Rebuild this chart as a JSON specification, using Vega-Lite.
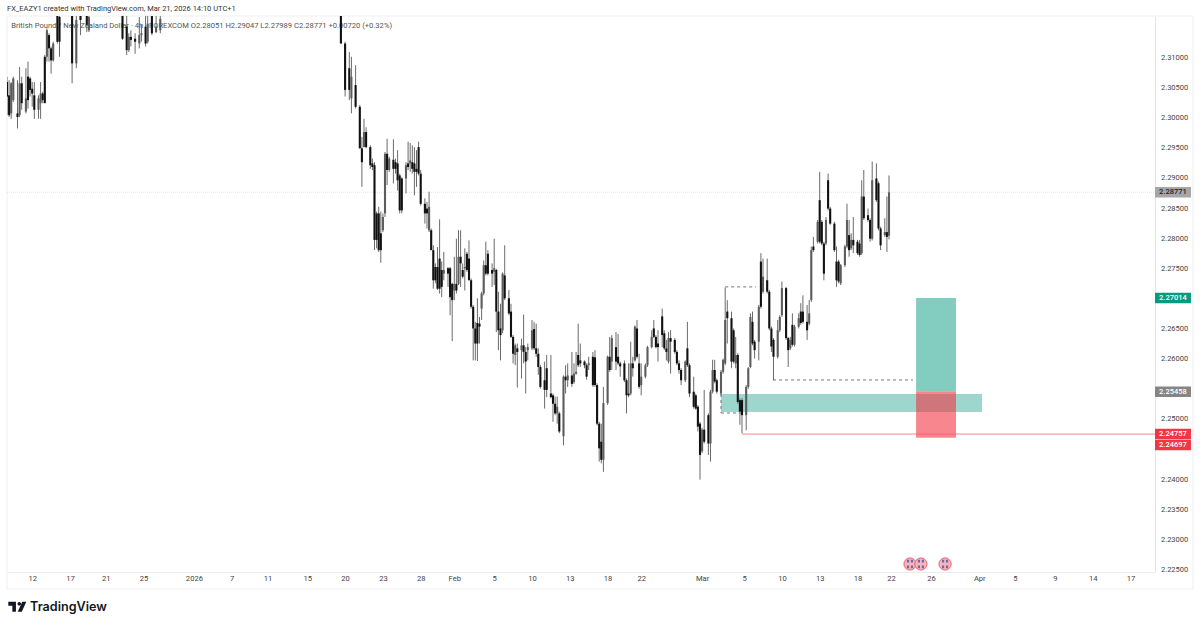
{
  "$schema": "https://vega.github.io/schema/vega-lite/v6.json",
  "width": 1148,
  "height": 556,
  "autosize": {"type": "none"},
  "padding": {"left": 7, "top": 16, "right": 45, "bottom": 55},
  "background": "#ffffff",
  "title": {
    "text": "FX_EAZY1 created with TradingView.com, Mar 21, 2026 14:10 UTC+1",
    "anchor": "start",
    "frame": "group",
    "offset": 3,
    "font": "Roboto",
    "fontSize": 7.5,
    "fontWeight": "normal",
    "color": "#333333"
  },
  "datasets": {
    "candles": [
      {"bar":0,"o":2.3060,"h":2.3069,"l":2.3005,"c":2.3036},
      {"bar":1,"o":2.3038,"h":2.3063,"l":2.3002,"c":2.3005},
      {"bar":2,"o":2.3008,"h":2.3060,"l":2.2999,"c":2.3058},
      {"bar":3,"o":2.3030,"h":2.3069,"l":2.3027,"c":2.3066},
      {"bar":5,"o":2.3008,"h":2.3063,"l":2.2983,"c":2.3002},
      {"bar":6,"o":2.3005,"h":2.3085,"l":2.3002,"c":2.3058},
      {"bar":7,"o":2.3058,"h":2.3069,"l":2.3014,"c":2.3025},
      {"bar":9,"o":2.3011,"h":2.3083,"l":2.3008,"c":2.3033},
      {"bar":10,"o":2.3069,"h":2.3094,"l":2.3016,"c":2.3030},
      {"bar":11,"o":2.3066,"h":2.3069,"l":2.3036,"c":2.3047},
      {"bar":12,"o":2.3049,"h":2.3060,"l":2.3019,"c":2.3041},
      {"bar":13,"o":2.3038,"h":2.3060,"l":2.2999,"c":2.3014},
      {"bar":15,"o":2.3014,"h":2.3038,"l":2.2999,"c":2.3033},
      {"bar":16,"o":2.3025,"h":2.3060,"l":2.2999,"c":2.3041},
      {"bar":17,"o":2.3041,"h":2.3044,"l":2.3025,"c":2.3030},
      {"bar":18,"o":2.3102,"h":2.3105,"l":2.3025,"c":2.3025},
      {"bar":19,"o":2.3102,"h":2.3149,"l":2.3094,"c":2.3146},
      {"bar":20,"o":2.3138,"h":2.3141,"l":2.3094,"c":2.3116},
      {"bar":21,"o":2.3116,"h":2.3119,"l":2.3074,"c":2.3096},
      {"bar":22,"o":2.3096,"h":2.3127,"l":2.3094,"c":2.3124},
      {"bar":24,"o":2.3174,"h":2.3185,"l":2.3124,"c":2.3127},
      {"bar":25,"o":2.3168,"h":2.3185,"l":2.3102,"c":2.3127},
      {"bar":31,"o":2.3174,"h":2.3185,"l":2.3058,"c":2.3091},
      {"bar":33,"o":2.3091,"h":2.3185,"l":2.3083,"c":2.3163},
      {"bar":35,"o":2.3175,"h":2.3185,"l":2.3138,"c":2.3163},
      {"bar":38,"o":2.3175,"h":2.3185,"l":2.3143,"c":2.3155},
      {"bar":39,"o":2.3146,"h":2.3185,"l":2.3143,"c":2.3168},
      {"bar":55,"o":2.3180,"h":2.3185,"l":2.3130,"c":2.3132},
      {"bar":57,"o":2.3152,"h":2.3175,"l":2.3105,"c":2.3113},
      {"bar":58,"o":2.3113,"h":2.3141,"l":2.3110,"c":2.3135},
      {"bar":59,"o":2.3135,"h":2.3146,"l":2.3119,"c":2.3130},
      {"bar":61,"o":2.3132,"h":2.3141,"l":2.3107,"c":2.3127},
      {"bar":63,"o":2.3124,"h":2.3168,"l":2.3116,"c":2.3138},
      {"bar":64,"o":2.3138,"h":2.3155,"l":2.3127,"c":2.3141},
      {"bar":66,"o":2.3152,"h":2.3175,"l":2.3119,"c":2.3124},
      {"bar":67,"o":2.3127,"h":2.3175,"l":2.3124,"c":2.3157},
      {"bar":69,"o":2.3180,"h":2.3185,"l":2.3138,"c":2.3141},
      {"bar":71,"o":2.3143,"h":2.3175,"l":2.3141,"c":2.3152},
      {"bar":73,"o":2.3146,"h":2.3185,"l":2.3141,"c":2.3165},
      {"bar":159,"o":2.3175,"h":2.3185,"l":2.3124,"c":2.3124},
      {"bar":161,"o":2.3124,"h":2.3127,"l":2.3036,"c":2.3047},
      {"bar":163,"o":2.3083,"h":2.3110,"l":2.3030,"c":2.3047},
      {"bar":164,"o":2.3033,"h":2.3102,"l":2.3008,"c":2.3069},
      {"bar":166,"o":2.3055,"h":2.3088,"l":2.3016,"c":2.3019},
      {"bar":168,"o":2.3019,"h":2.3022,"l":2.2950,"c":2.2950},
      {"bar":169,"o":2.2950,"h":2.2969,"l":2.2886,"c":2.2927},
      {"bar":170,"o":2.2952,"h":2.2999,"l":2.2952,"c":2.2977},
      {"bar":171,"o":2.2977,"h":2.2985,"l":2.2950,"c":2.2952},
      {"bar":173,"o":2.2952,"h":2.2955,"l":2.2916,"c":2.2922},
      {"bar":174,"o":2.2925,"h":2.2933,"l":2.2914,"c":2.2919},
      {"bar":175,"o":2.2922,"h":2.2927,"l":2.2781,"c":2.2798},
      {"bar":176,"o":2.2842,"h":2.2845,"l":2.2784,"c":2.2798},
      {"bar":177,"o":2.2842,"h":2.2853,"l":2.2778,"c":2.2781},
      {"bar":178,"o":2.2809,"h":2.2845,"l":2.2760,"c":2.2781},
      {"bar":179,"o":2.2814,"h":2.2842,"l":2.2811,"c":2.2836},
      {"bar":180,"o":2.2842,"h":2.2944,"l":2.2836,"c":2.2941},
      {"bar":181,"o":2.2941,"h":2.2966,"l":2.2889,"c":2.2914},
      {"bar":182,"o":2.2914,"h":2.2936,"l":2.2911,"c":2.2933},
      {"bar":184,"o":2.2931,"h":2.2965,"l":2.2892,"c":2.2916},
      {"bar":185,"o":2.2927,"h":2.2933,"l":2.2908,"c":2.2916},
      {"bar":186,"o":2.2925,"h":2.2947,"l":2.2880,"c":2.2897},
      {"bar":187,"o":2.2905,"h":2.2908,"l":2.2842,"c":2.2847},
      {"bar":188,"o":2.2900,"h":2.2902,"l":2.2842,"c":2.2847},
      {"bar":190,"o":2.2900,"h":2.2927,"l":2.2875,"c":2.2922},
      {"bar":191,"o":2.2925,"h":2.2961,"l":2.2914,"c":2.2919},
      {"bar":192,"o":2.2925,"h":2.2959,"l":2.2911,"c":2.2930},
      {"bar":193,"o":2.2927,"h":2.2955,"l":2.2908,"c":2.2916},
      {"bar":194,"o":2.2925,"h":2.2952,"l":2.2872,"c":2.2911},
      {"bar":195,"o":2.2916,"h":2.2947,"l":2.2886,"c":2.2911},
      {"bar":196,"o":2.2952,"h":2.2961,"l":2.2905,"c":2.2908},
      {"bar":197,"o":2.2908,"h":2.2914,"l":2.2855,"c":2.2858},
      {"bar":199,"o":2.2858,"h":2.2867,"l":2.2825,"c":2.2842},
      {"bar":200,"o":2.2850,"h":2.2861,"l":2.2817,"c":2.2842},
      {"bar":201,"o":2.2814,"h":2.2878,"l":2.2811,"c":2.2853},
      {"bar":202,"o":2.2814,"h":2.2817,"l":2.2781,"c":2.2781},
      {"bar":203,"o":2.2781,"h":2.2789,"l":2.2717,"c":2.2731},
      {"bar":204,"o":2.2753,"h":2.2759,"l":2.2726,"c":2.2731},
      {"bar":205,"o":2.2753,"h":2.2786,"l":2.2715,"c":2.2717},
      {"bar":206,"o":2.2767,"h":2.2832,"l":2.2709,"c":2.2717},
      {"bar":207,"o":2.2748,"h":2.2762,"l":2.2703,"c":2.2720},
      {"bar":208,"o":2.2742,"h":2.2778,"l":2.2731,"c":2.2748},
      {"bar":210,"o":2.2751,"h":2.2753,"l":2.2720,"c":2.2742},
      {"bar":211,"o":2.2751,"h":2.2753,"l":2.2673,"c":2.2703},
      {"bar":212,"o":2.2725,"h":2.2727,"l":2.2630,"c":2.2698},
      {"bar":213,"o":2.2714,"h":2.2770,"l":2.2698,"c":2.2725},
      {"bar":214,"o":2.2725,"h":2.2800,"l":2.2709,"c":2.2714},
      {"bar":215,"o":2.2725,"h":2.2814,"l":2.2723,"c":2.2770},
      {"bar":216,"o":2.2770,"h":2.2814,"l":2.2720,"c":2.2759},
      {"bar":217,"o":2.2748,"h":2.2759,"l":2.2734,"c":2.2737},
      {"bar":218,"o":2.2751,"h":2.2784,"l":2.2714,"c":2.2753},
      {"bar":219,"o":2.2775,"h":2.2778,"l":2.2745,"c":2.2748},
      {"bar":220,"o":2.2767,"h":2.2797,"l":2.2731,"c":2.2731},
      {"bar":221,"o":2.2731,"h":2.2734,"l":2.2684,"c":2.2687},
      {"bar":222,"o":2.2687,"h":2.2690,"l":2.2598,"c":2.2651},
      {"bar":223,"o":2.2651,"h":2.2662,"l":2.2598,"c":2.2626},
      {"bar":224,"o":2.2660,"h":2.2701,"l":2.2597,"c":2.2626},
      {"bar":225,"o":2.2659,"h":2.2670,"l":2.2626,"c":2.2654},
      {"bar":226,"o":2.2684,"h":2.2712,"l":2.2665,"c":2.2709},
      {"bar":227,"o":2.2709,"h":2.2764,"l":2.2706,"c":2.2756},
      {"bar":228,"o":2.2756,"h":2.2795,"l":2.2739,"c":2.2742},
      {"bar":229,"o":2.2775,"h":2.2781,"l":2.2739,"c":2.2742},
      {"bar":231,"o":2.2748,"h":2.2759,"l":2.2720,"c":2.2742},
      {"bar":232,"o":2.2745,"h":2.2800,"l":2.2723,"c":2.2751},
      {"bar":233,"o":2.2748,"h":2.2750,"l":2.2645,"c":2.2679},
      {"bar":234,"o":2.2679,"h":2.2712,"l":2.2615,"c":2.2648},
      {"bar":235,"o":2.2651,"h":2.2692,"l":2.2598,"c":2.2640},
      {"bar":236,"o":2.2648,"h":2.2744,"l":2.2643,"c":2.2742},
      {"bar":237,"o":2.2739,"h":2.2789,"l":2.2698,"c":2.2701},
      {"bar":239,"o":2.2701,"h":2.2715,"l":2.2673,"c":2.2676},
      {"bar":240,"o":2.2679,"h":2.2692,"l":2.2635,"c":2.2637},
      {"bar":241,"o":2.2637,"h":2.2640,"l":2.2593,"c":2.2609},
      {"bar":242,"o":2.2607,"h":2.2626,"l":2.2590,"c":2.2623},
      {"bar":243,"o":2.2618,"h":2.2626,"l":2.2553,"c":2.2612},
      {"bar":245,"o":2.2615,"h":2.2634,"l":2.2568,"c":2.2623},
      {"bar":246,"o":2.2623,"h":2.2674,"l":2.2593,"c":2.2612},
      {"bar":247,"o":2.2612,"h":2.2620,"l":2.2543,"c":2.2596},
      {"bar":248,"o":2.2615,"h":2.2626,"l":2.2598,"c":2.2620},
      {"bar":250,"o":2.2618,"h":2.2665,"l":2.2615,"c":2.2648},
      {"bar":251,"o":2.2650,"h":2.2662,"l":2.2615,"c":2.2618},
      {"bar":252,"o":2.2618,"h":2.2659,"l":2.2604,"c":2.2609},
      {"bar":253,"o":2.2609,"h":2.2618,"l":2.2574,"c":2.2587},
      {"bar":254,"o":2.2587,"h":2.2590,"l":2.2551,"c":2.2554},
      {"bar":256,"o":2.2565,"h":2.2596,"l":2.2518,"c":2.2549},
      {"bar":257,"o":2.2585,"h":2.2607,"l":2.2537,"c":2.2549},
      {"bar":259,"o":2.2543,"h":2.2607,"l":2.2535,"c":2.2537},
      {"bar":260,"o":2.2540,"h":2.2543,"l":2.2496,"c":2.2526},
      {"bar":261,"o":2.2526,"h":2.2538,"l":2.2507,"c":2.2510},
      {"bar":262,"o":2.2510,"h":2.2538,"l":2.2493,"c":2.2521},
      {"bar":263,"o":2.2510,"h":2.2513,"l":2.2477,"c":2.2480},
      {"bar":265,"o":2.2472,"h":2.2573,"l":2.2457,"c":2.2571},
      {"bar":266,"o":2.2571,"h":2.2590,"l":2.2543,"c":2.2565},
      {"bar":267,"o":2.2565,"h":2.2593,"l":2.2554,"c":2.2573},
      {"bar":269,"o":2.2573,"h":2.2612,"l":2.2554,"c":2.2559},
      {"bar":270,"o":2.2562,"h":2.2593,"l":2.2559,"c":2.2576},
      {"bar":271,"o":2.2576,"h":2.2612,"l":2.2574,"c":2.2579},
      {"bar":272,"o":2.2607,"h":2.2659,"l":2.2587,"c":2.2590},
      {"bar":273,"o":2.2598,"h":2.2626,"l":2.2587,"c":2.2593},
      {"bar":275,"o":2.2596,"h":2.2598,"l":2.2585,"c":2.2590},
      {"bar":276,"o":2.2590,"h":2.2593,"l":2.2566,"c":2.2571},
      {"bar":277,"o":2.2590,"h":2.2604,"l":2.2582,"c":2.2593},
      {"bar":279,"o":2.2604,"h":2.2612,"l":2.2554,"c":2.2557},
      {"bar":280,"o":2.2603,"h":2.2615,"l":2.2554,"c":2.2557},
      {"bar":281,"o":2.2557,"h":2.2560,"l":2.2490,"c":2.2493},
      {"bar":282,"o":2.2493,"h":2.2496,"l":2.2430,"c":2.2452},
      {"bar":283,"o":2.2463,"h":2.2493,"l":2.2427,"c":2.2433},
      {"bar":284,"o":2.2433,"h":2.2554,"l":2.2413,"c":2.2527},
      {"bar":286,"o":2.2527,"h":2.2606,"l":2.2524,"c":2.2604},
      {"bar":287,"o":2.2604,"h":2.2637,"l":2.2579,"c":2.2582},
      {"bar":288,"o":2.2596,"h":2.2640,"l":2.2582,"c":2.2635},
      {"bar":290,"o":2.2620,"h":2.2645,"l":2.2582,"c":2.2596},
      {"bar":291,"o":2.2604,"h":2.2642,"l":2.2590,"c":2.2593},
      {"bar":292,"o":2.2593,"h":2.2596,"l":2.2571,"c":2.2588},
      {"bar":294,"o":2.2593,"h":2.2598,"l":2.2562,"c":2.2565},
      {"bar":295,"o":2.2565,"h":2.2568,"l":2.2510,"c":2.2540},
      {"bar":296,"o":2.2543,"h":2.2593,"l":2.2537,"c":2.2540},
      {"bar":297,"o":2.2543,"h":2.2629,"l":2.2540,"c":2.2593},
      {"bar":298,"o":2.2593,"h":2.2604,"l":2.2571,"c":2.2585},
      {"bar":299,"o":2.2598,"h":2.2656,"l":2.2596,"c":2.2654},
      {"bar":300,"o":2.2651,"h":2.2665,"l":2.2601,"c":2.2604},
      {"bar":301,"o":2.2593,"h":2.2609,"l":2.2551,"c":2.2554},
      {"bar":302,"o":2.2557,"h":2.2593,"l":2.2540,"c":2.2571},
      {"bar":304,"o":2.2571,"h":2.2593,"l":2.2568,"c":2.2590},
      {"bar":305,"o":2.2590,"h":2.2622,"l":2.2587,"c":2.2620},
      {"bar":307,"o":2.2620,"h":2.2648,"l":2.2618,"c":2.2637},
      {"bar":308,"o":2.2651,"h":2.2665,"l":2.2635,"c":2.2637},
      {"bar":309,"o":2.2637,"h":2.2640,"l":2.2618,"c":2.2620},
      {"bar":310,"o":2.2626,"h":2.2648,"l":2.2596,"c":2.2620},
      {"bar":312,"o":2.2671,"h":2.2684,"l":2.2620,"c":2.2640},
      {"bar":313,"o":2.2643,"h":2.2648,"l":2.2615,"c":2.2618},
      {"bar":314,"o":2.2618,"h":2.2632,"l":2.2598,"c":2.2612},
      {"bar":315,"o":2.2596,"h":2.2645,"l":2.2593,"c":2.2635},
      {"bar":316,"o":2.2635,"h":2.2648,"l":2.2576,"c":2.2629},
      {"bar":318,"o":2.2632,"h":2.2635,"l":2.2609,"c":2.2612},
      {"bar":319,"o":2.2612,"h":2.2615,"l":2.2590,"c":2.2593},
      {"bar":320,"o":2.2593,"h":2.2598,"l":2.2576,"c":2.2582},
      {"bar":321,"o":2.2582,"h":2.2585,"l":2.2557,"c":2.2565},
      {"bar":323,"o":2.2565,"h":2.2598,"l":2.2562,"c":2.2596},
      {"bar":324,"o":2.2618,"h":2.2662,"l":2.2587,"c":2.2590},
      {"bar":325,"o":2.2590,"h":2.2593,"l":2.2537,"c":2.2543},
      {"bar":327,"o":2.2546,"h":2.2571,"l":2.2518,"c":2.2521},
      {"bar":328,"o":2.2540,"h":2.2543,"l":2.2516,"c":2.2518},
      {"bar":329,"o":2.2521,"h":2.2524,"l":2.2480,"c":2.2488},
      {"bar":330,"o":2.2493,"h":2.2496,"l":2.2400,"c":2.2441},
      {"bar":331,"o":2.2447,"h":2.2486,"l":2.2444,"c":2.2483},
      {"bar":332,"o":2.2483,"h":2.2549,"l":2.2460,"c":2.2463},
      {"bar":334,"o":2.2507,"h":2.2510,"l":2.2441,"c":2.2460},
      {"bar":335,"o":2.2460,"h":2.2549,"l":2.2430,"c":2.2546},
      {"bar":336,"o":2.2546,"h":2.2599,"l":2.2543,"c":2.2582},
      {"bar":337,"o":2.2582,"h":2.2599,"l":2.2560,"c":2.2563},
      {"bar":338,"o":2.2565,"h":2.2568,"l":2.2543,"c":2.2546},
      {"bar":340,"o":2.2543,"h":2.2582,"l":2.2540,"c":2.2579},
      {"bar":341,"o":2.2579,"h":2.2601,"l":2.2576,"c":2.2599},
      {"bar":342,"o":2.2593,"h":2.2719,"l":2.2590,"c":2.2665},
      {"bar":343,"o":2.2679,"h":2.2698,"l":2.2626,"c":2.2668},
      {"bar":345,"o":2.2668,"h":2.2679,"l":2.2585,"c":2.2596},
      {"bar":346,"o":2.2648,"h":2.2651,"l":2.2593,"c":2.2596},
      {"bar":347,"o":2.2593,"h":2.2637,"l":2.2585,"c":2.2607},
      {"bar":348,"o":2.2607,"h":2.2610,"l":2.2526,"c":2.2529},
      {"bar":349,"o":2.2532,"h":2.2535,"l":2.2491,"c":2.2513},
      {"bar":350,"o":2.2532,"h":2.2535,"l":2.2477,"c":2.2507},
      {"bar":352,"o":2.2507,"h":2.2557,"l":2.2482,"c":2.2554},
      {"bar":353,"o":2.2554,"h":2.2587,"l":2.2551,"c":2.2585},
      {"bar":354,"o":2.2587,"h":2.2676,"l":2.2585,"c":2.2670},
      {"bar":355,"o":2.2662,"h":2.2679,"l":2.2623,"c":2.2626},
      {"bar":356,"o":2.2629,"h":2.2632,"l":2.2601,"c":2.2615},
      {"bar":358,"o":2.2629,"h":2.2690,"l":2.2598,"c":2.2687},
      {"bar":359,"o":2.2762,"h":2.2776,"l":2.2684,"c":2.2687},
      {"bar":360,"o":2.2712,"h":2.2767,"l":2.2709,"c":2.2737},
      {"bar":362,"o":2.2731,"h":2.2767,"l":2.2709,"c":2.2712},
      {"bar":363,"o":2.2712,"h":2.2715,"l":2.2648,"c":2.2651},
      {"bar":364,"o":2.2651,"h":2.2654,"l":2.2612,"c":2.2621},
      {"bar":365,"o":2.2632,"h":2.2635,"l":2.2565,"c":2.2604},
      {"bar":367,"o":2.2604,"h":2.2665,"l":2.2601,"c":2.2648},
      {"bar":368,"o":2.2648,"h":2.2673,"l":2.2645,"c":2.2670},
      {"bar":369,"o":2.2673,"h":2.2729,"l":2.2670,"c":2.2718},
      {"bar":371,"o":2.2718,"h":2.2720,"l":2.2632,"c":2.2635},
      {"bar":372,"o":2.2635,"h":2.2637,"l":2.2587,"c":2.2615},
      {"bar":373,"o":2.2618,"h":2.2637,"l":2.2615,"c":2.2632},
      {"bar":374,"o":2.2657,"h":2.2676,"l":2.2621,"c":2.2624},
      {"bar":375,"o":2.2624,"h":2.2657,"l":2.2621,"c":2.2654},
      {"bar":377,"o":2.2654,"h":2.2676,"l":2.2651,"c":2.2668},
      {"bar":378,"o":2.2679,"h":2.2693,"l":2.2657,"c":2.2660},
      {"bar":379,"o":2.2679,"h":2.2706,"l":2.2659,"c":2.2662},
      {"bar":381,"o":2.2662,"h":2.2690,"l":2.2632,"c":2.2648},
      {"bar":382,"o":2.2659,"h":2.2698,"l":2.2656,"c":2.2676},
      {"bar":383,"o":2.2698,"h":2.2787,"l":2.2695,"c":2.2781},
      {"bar":384,"o":2.2787,"h":2.2803,"l":2.2778,"c":2.2781},
      {"bar":386,"o":2.2795,"h":2.2831,"l":2.2792,"c":2.2828},
      {"bar":387,"o":2.2864,"h":2.2911,"l":2.2792,"c":2.2795},
      {"bar":388,"o":2.2828,"h":2.2831,"l":2.2789,"c":2.2792},
      {"bar":389,"o":2.2792,"h":2.2795,"l":2.2731,"c":2.2742},
      {"bar":390,"o":2.2792,"h":2.2836,"l":2.2789,"c":2.2831},
      {"bar":391,"o":2.2897,"h":2.2908,"l":2.2847,"c":2.2850},
      {"bar":392,"o":2.2850,"h":2.2853,"l":2.2823,"c":2.2825},
      {"bar":394,"o":2.2825,"h":2.2828,"l":2.2778,"c":2.2781},
      {"bar":395,"o":2.2762,"h":2.2787,"l":2.2720,"c":2.2731},
      {"bar":396,"o":2.2762,"h":2.2765,"l":2.2726,"c":2.2729},
      {"bar":397,"o":2.2726,"h":2.2758,"l":2.2723,"c":2.2756},
      {"bar":399,"o":2.2756,"h":2.2790,"l":2.2753,"c":2.2787},
      {"bar":400,"o":2.2787,"h":2.2858,"l":2.2784,"c":2.2831},
      {"bar":401,"o":2.2806,"h":2.2831,"l":2.2770,"c":2.2781},
      {"bar":402,"o":2.2784,"h":2.2809,"l":2.2781,"c":2.2798},
      {"bar":403,"o":2.2798,"h":2.2836,"l":2.2776,"c":2.2789},
      {"bar":405,"o":2.2795,"h":2.2798,"l":2.2773,"c":2.2776},
      {"bar":406,"o":2.2792,"h":2.2798,"l":2.2770,"c":2.2773},
      {"bar":407,"o":2.2776,"h":2.2897,"l":2.2773,"c":2.2870},
      {"bar":408,"o":2.2870,"h":2.2914,"l":2.2831,"c":2.2834},
      {"bar":410,"o":2.2839,"h":2.2850,"l":2.2828,"c":2.2831},
      {"bar":411,"o":2.2831,"h":2.2834,"l":2.2795,"c":2.2800},
      {"bar":412,"o":2.2800,"h":2.2928,"l":2.2797,"c":2.2897},
      {"bar":414,"o":2.2900,"h":2.2925,"l":2.2861,"c":2.2864},
      {"bar":415,"o":2.2892,"h":2.2895,"l":2.2814,"c":2.2817},
      {"bar":416,"o":2.2817,"h":2.2820,"l":2.2781,"c":2.2789},
      {"bar":418,"o":2.2806,"h":2.2834,"l":2.2803,"c":2.2811},
      {"bar":419,"o":2.2811,"h":2.2870,"l":2.2778,"c":2.2803},
      {"bar":420,"o":2.2805,"h":2.2905,"l":2.2799,"c":2.2877}
    ],
    "boxes": [
      {"name":"band","x0":340,"x1":464.3,"top":2.25422,"bottom":2.25123},
      {"name":"target","x0":432.9,"x1":451.9,"top":2.27014,"bottom":2.25458},
      {"name":"stop","x0":432.9,"x1":451.9,"top":2.25458,"bottom":2.24697}
    ],
    "dashes": [
      {"x0":342,"x1":356.7,"y0":2.2720,"y1":2.2720},
      {"x0":364.8,"x1":431.4,"y0":2.25655,"y1":2.25655},
      {"x0":340,"x1":350,"y0":2.25107,"y1":2.25107},
      {"x0":340,"x1":340,"y0":2.25422,"y1":2.25107}
    ],
    "tags": [
      {"label":"2.28771","at":2.28771,"kind":"last"},
      {"label":"2.27014","at":2.27014,"kind":"target"},
      {"label":"2.25458","at":2.25458,"kind":"entry"},
      {"label":"2.24757","at":2.24757,"kind":"stop"},
      {"label":"2.24697","at":2.24576,"kind":"stop"}
    ],
    "priceLabels": [
      {"price":2.31,"label":"2.31000"},
      {"price":2.305,"label":"2.30500"},
      {"price":2.30,"label":"2.30000"},
      {"price":2.295,"label":"2.29500"},
      {"price":2.29,"label":"2.29000"},
      {"price":2.285,"label":"2.28500"},
      {"price":2.28,"label":"2.28000"},
      {"price":2.275,"label":"2.27500"},
      {"price":2.265,"label":"2.26500"},
      {"price":2.26,"label":"2.26000"},
      {"price":2.25,"label":"2.25000"},
      {"price":2.24,"label":"2.24000"},
      {"price":2.235,"label":"2.23500"},
      {"price":2.23,"label":"2.23000"},
      {"price":2.225,"label":"2.22500"}
    ],
    "flags": [
      {"bar":430},
      {"bar":435.2},
      {"bar":446.7}
    ]
  },
  "data": {"name": "candles"},
  "layer": [
    {
      "data": {"values": [{"x0":0,"x1":564.8,"top":2.31697,"bottom":2.22185}]},
      "mark": {"type": "rect", "fill": null, "stroke": "#efefef", "strokeWidth": 1},
      "encoding": {
        "x": {
          "field": "x0",
          "type": "quantitative",
          "title": null,
          "scale": {"domain": [0, 546.67], "nice": false, "zero": false},
          "axis": {
            "orient": "bottom",
            "domain": true,
            "domainColor": "#ececec",
            "ticks": false,
            "grid": false,
            "labelPadding": 2,
            "labelFont": "Roboto",
            "labelFontSize": 7.6,
            "labelColor": "#444444",
            "labelOverlap": false,
            "labelFlush": false,
            "values": [12,30,47,65,89,107,124,143,161,179,197,213,232,250,268,286,302,331,351,369,387,405,421,440,463,480,499,517,535],
            "labelExpr": "{'12':'12','30':'17','47':'21','65':'25','89':'2026','107':'7','124':'11','143':'15','161':'20','179':'23','197':'28','213':'Feb','232':'5','250':'10','268':'13','286':'18','302':'22','331':'Mar','351':'5','369':'10','387':'13','405':'18','421':'22','440':'26','463':'Apr','480':'5','499':'9','517':'14','535':'17'}[datum.value]"
          }
        },
        "x2": {"field": "x1"},
        "y": {
          "field": "top",
          "type": "quantitative",
          "title": null,
          "scale": {"domain": [2.22467, 2.31697], "nice": false, "zero": false},
          "axis": {
            "orient": "right",
            "domain": true,
            "domainColor": "#e4e4e4",
            "ticks": false,
            "grid": false,
            "labels": false
          }
        },
        "y2": {"field": "bottom"}
      }
    },
    {
      "data": {"name": "priceLabels"},
      "mark": {"type": "text", "align": "left", "font": "Roboto", "fontSize": 7.5, "color": "#444444"},
      "encoding": {
        "x": {"datum": 549.5, "type": "quantitative", "title": null},
        "y": {"field": "price", "type": "quantitative", "title": null},
        "text": {"field": "label"}
      }
    },
    {
      "data": {"name": "boxes"},
      "mark": {"type": "rect"},
      "encoding": {
        "x": {"field": "x0", "type": "quantitative", "title": null},
        "x2": {"field": "x1"},
        "y": {"field": "top", "type": "quantitative", "title": null},
        "y2": {"field": "bottom"},
        "color": {
          "field": "name",
          "type": "nominal",
          "legend": null,
          "scale": {"domain": ["band", "target", "stop", "last", "entry"], "range": ["#089981", "#089981", "#f23645", "#a6a6a6", "#858585"]}
        },
        "opacity": {
          "field": "name",
          "type": "nominal",
          "legend": null,
          "scale": {"domain": ["band", "target", "stop"], "range": [0.4, 0.6, 0.55]}
        }
      }
    },
    {
      "data": {"values": [{"price":2.28771,"x0":0,"x1":546.67}]},
      "mark": {"type": "rule", "color": "#dddddd", "strokeWidth": 0.8, "strokeDash": [1, 1]},
      "encoding": {
        "x": {"field": "x0", "type": "quantitative", "title": null},
        "x2": {"field": "x1"},
        "y": {"field": "price", "type": "quantitative", "title": null}
      }
    },
    {
      "data": {"values": [{"price":2.24757,"x0":350,"x1":546.67}]},
      "mark": {"type": "rule", "color": "#f0626e", "strokeWidth": 0.8},
      "encoding": {
        "x": {"field": "x0", "type": "quantitative", "title": null},
        "x2": {"field": "x1"},
        "y": {"field": "price", "type": "quantitative", "title": null}
      }
    },
    {
      "data": {"name": "dashes"},
      "mark": {"type": "rule", "color": "#666666", "strokeWidth": 0.9, "strokeDash": [3, 3]},
      "encoding": {
        "x": {"field": "x0", "type": "quantitative", "title": null},
        "x2": {"field": "x1"},
        "y": {"field": "y0", "type": "quantitative", "title": null},
        "y2": {"field": "y1"}
      }
    },
    {
      "data": {"values": [{"bar":2,"price":2.3153,"text":"British Pound / New Zealand Dollar · 4h · FOREXCOM   O2.28051  H2.29047  L2.27989  C2.28771  +0.00720 (+0.32%)"}]},
      "mark": {"type": "text", "align": "left", "font": "Roboto", "fontSize": 7.6, "color": "#555555"},
      "encoding": {
        "x": {"field": "bar", "type": "quantitative", "title": null},
        "y": {"field": "price", "type": "quantitative", "title": null},
        "text": {"field": "text"}
      }
    },
    {
      "mark": {"type": "rule", "color": "#6a6a6a", "strokeWidth": 1, "clip": true},
      "encoding": {
        "x": {"field": "bar", "type": "quantitative", "title": null},
        "y": {"field": "h", "type": "quantitative", "title": null},
        "y2": {"field": "l"}
      }
    },
    {
      "mark": {"type": "rule", "strokeWidth": 2.1, "clip": true},
      "encoding": {
        "x": {"field": "bar", "type": "quantitative", "title": null},
        "y": {"field": "o", "type": "quantitative", "title": null},
        "y2": {"field": "c"},
        "color": {"condition": {"test": "datum.c < datum.o", "value": "#111111"}, "value": "#5c5c5c"}
      }
    },
    {
      "data": {"name": "tags"},
      "mark": {"type": "rule", "strokeWidth": 10.5},
      "encoding": {
        "x": {"datum": 546.67, "type": "quantitative", "title": null},
        "x2": {"datum": 563.8},
        "y": {"field": "at", "type": "quantitative", "title": null},
        "color": {"field": "kind", "type": "nominal", "legend": null}
      }
    },
    {
      "data": {"name": "tags"},
      "mark": {"type": "text", "font": "Roboto", "fontSize": 7.5, "fontWeight": 500},
      "encoding": {
        "x": {"datum": 555.2, "type": "quantitative", "title": null},
        "y": {"field": "at", "type": "quantitative", "title": null},
        "text": {"field": "label"},
        "color": {"condition": {"test": "datum.kind === 'last'", "value": "#222222"}, "value": "#ffffff"}
      }
    },
    {
      "data": {"name": "flags"},
      "mark": {"type": "point", "shape": "circle", "filled": true, "size": 150, "fill": "#f6b4bd", "stroke": "#e8485c", "strokeWidth": 0.8, "opacity": 1},
      "encoding": {
        "x": {"field": "bar", "type": "quantitative", "title": null},
        "y": {"datum": 2.2260, "type": "quantitative", "title": null}
      }
    },
    {
      "data": {"name": "flags"},
      "mark": {
        "type": "point",
        "shape": "M-.5,-.7H-.15V-.25H-.5ZM.15,-.7H.5V-.25H.15ZM-.5,.25H-.15V.7H-.5ZM.15,.25H.5V.7H.15Z",
        "filled": true,
        "size": 150,
        "fill": "#6a6a9e",
        "strokeWidth": 0,
        "opacity": 1
      },
      "encoding": {
        "x": {"field": "bar", "type": "quantitative", "title": null},
        "y": {"datum": 2.2260, "type": "quantitative", "title": null}
      }
    },
    {
      "data": {"values": [{"bar":4.9,"price":2.2189}]},
      "mark": {
        "type": "point",
        "shape": "M-1,-.55H-.15V.55H-.55V-.1H-1ZM.02,-.33A.2,.2 0 1 1 .42,-.33A.2,.2 0 1 1 .02,-.33ZM.55,-.55H1L.5,.55H.05Z",
        "filled": true,
        "size": 324,
        "fill": "#131722",
        "strokeWidth": 0,
        "opacity": 1
      },
      "encoding": {
        "x": {"field": "bar", "type": "quantitative", "title": null},
        "y": {"field": "price", "type": "quantitative", "title": null}
      }
    },
    {
      "data": {"values": [{"bar":11,"price":2.2189,"text":"TradingView"}]},
      "mark": {"type": "text", "align": "left", "font": "Inter", "fontSize": 12.6, "fontWeight": 600, "color": "#131722"},
      "encoding": {
        "x": {"field": "bar", "type": "quantitative", "title": null},
        "y": {"field": "price", "type": "quantitative", "title": null},
        "text": {"field": "text"}
      }
    }
  ],
  "config": {
    "view": {"stroke": null}
  }
}
